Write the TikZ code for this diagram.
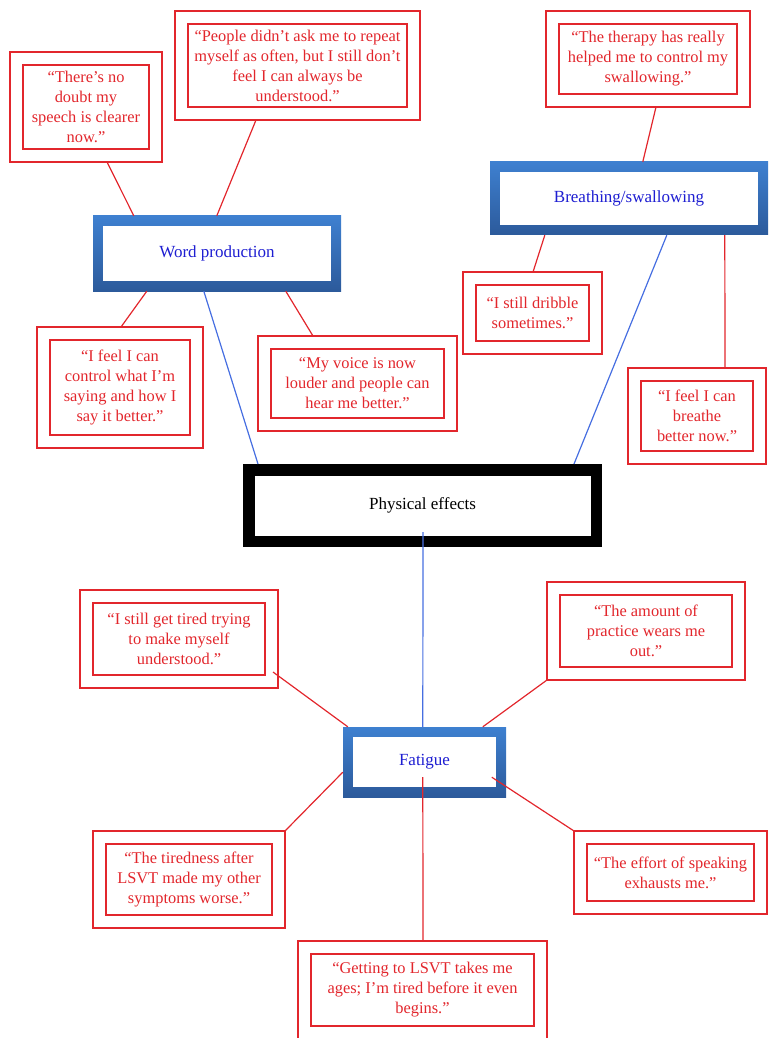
\documentclass[tikz,border=0pt]{standalone}
\usepackage{fontspec}
\setmainfont{Liberation Serif}
\usetikzlibrary{calc}
\definecolor{qred}{RGB}{226,38,44}
\definecolor{tblue}{RGB}{30,30,210}
\definecolor{lblue}{RGB}{70,110,225}
\definecolor{btop}{RGB}{62,128,208}
\definecolor{bbot}{RGB}{44,90,155}
\newcommand{\qfont}{\fontsize{16.4}{20}\selectfont}
\newcommand{\tfont}{\fontsize{17}{20}\selectfont}
\begin{document}
\begin{tikzpicture}[x=1pt,y=-1pt,
  quote/.style={draw=qred, line width=1.3pt, double=white, double distance=11.7pt,
    outer sep=6.5pt, inner sep=0pt, text=qred, align=center, font=\qfont},
  topic/.style={top color=btop, bottom color=bbot, inner sep=0pt, text=tblue, font=\tfont,
    path picture={\fill[white] ([xshift=10pt,yshift=-10pt]path picture bounding box.north west)
      rectangle ([xshift=-10pt,yshift=10pt]path picture bounding box.south east);}},
  centrebox/.style={draw=black, line width=11.5pt, fill=white, outer sep=5.75pt,
    inner sep=0pt, font=\tfont},
  redline/.style={draw=qred, line width=1.2pt},
  blueline/.style={draw=lblue, line width=1.2pt}]
\useasboundingbox (0,0) rectangle (777,1048);
\begin{scope}
\clip (0,0) rectangle (777,1037);
% topic boxes
\node[topic, minimum width=248pt, minimum height=75pt] (word) at (217,253.5) {Word production};
\node[topic, minimum width=278pt, minimum height=73pt] (breath) at (629,198.5) {Breathing/swallowing};
\node[topic, minimum width=163pt, minimum height=70pt] (fat) at (424.5,762) {Fatigue};
\node[centrebox, minimum width=347.5pt, minimum height=71.5pt] (phys) at (422.5,505.5) {Physical effects};
% quotes
\node[quote, minimum width=139pt, minimum height=97pt] (b1) at (86,107)
  {“There’s no\\ doubt my\\ speech is clearer\\ now.”};
\node[quote, minimum width=232pt, minimum height=96pt] (b2) at (297.5,65.5)
  {“People didn’t ask me to repeat\\ myself as often, but I still don’t\\ feel I can always be\\ understood.”};
\node[quote, minimum width=191pt, minimum height=83pt] (b3) at (648,59)
  {“The therapy has really\\ helped me to control my\\ swallowing.”};
\node[quote, minimum width=126pt, minimum height=69pt] (dribble) at (532.5,313)
  {“I still dribble\\ sometimes.”};
\node[quote, minimum width=125pt, minimum height=83pt] (breathe) at (697,416)
  {“I feel I can\\ breathe\\ better now.”};
\node[quote, minimum width=153pt, minimum height=108pt] (control) at (120,387.5)
  {“I feel I can\\ control what I’m\\ saying and how I\\ say it better.”};
\node[quote, minimum width=186pt, minimum height=82pt] (voice) at (357.5,383.5)
  {“My voice is now\\ louder and people can\\ hear me better.”};
\node[quote, minimum width=185pt, minimum height=85pt] (tired) at (179,639)
  {“I still get tired trying\\ to make myself\\ understood.”};
\node[quote, minimum width=185pt, minimum height=85pt] (amount) at (646,631)
  {“The amount of\\ practice wears me\\ out.”};
\node[quote, minimum width=179pt, minimum height=84pt] (tiredness) at (189,879.5)
  {“The tiredness after\\ LSVT made my other\\ symptoms worse.”};
\node[quote, minimum width=180pt, minimum height=70pt] (effort) at (670.5,872.5)
  {“The effort of speaking\\ exhausts me.”};
\node[quote, minimum width=236pt, minimum height=85pt] (bottom) at (422.5,990)
  {“Getting to LSVT takes me\\ ages; I’m tired before it even\\ begins.”};
% connectors
\draw[redline] ([xshift=97pt]b1.south west) -- ([xshift=41pt]word.north west);
\draw[redline] ([xshift=81pt]b2.south west) -- ([xshift=124pt]word.north west);
\draw[redline] ([xshift=54pt]word.south west) -- ([xshift=84pt]control.north west);
\draw[redline] ([xshift=193pt]word.south west) -- ([xshift=55pt]voice.north west);
\draw[blueline] ([xshift=111pt]word.south west) -- ([xshift=15pt]phys.north west);
\draw[redline] ([xshift=110pt]b3.south west) -- ([xshift=153pt]breath.north west);
\draw[redline] ([xshift=55pt]breath.south west) -- ([xshift=70pt]dribble.north west);
\draw[redline] ([xshift=235pt]breath.south west) -- ([xshift=97pt]breathe.north west);
\draw[blueline] ([xshift=177pt]breath.south west) -- ([xshift=331pt]phys.north west);
\draw[blueline] ([xshift=180pt,yshift=15pt]phys.south west) -- ([xshift=80pt]fat.north west);
\draw[redline] ([xshift=-5pt,yshift=16pt]tired.south east) -- ([xshift=5pt]fat.north west);
\draw[redline] (amount.south west) -- ([xshift=140pt]fat.north west);
\draw[redline] (tiredness.north east) -- ([yshift=25pt]fat.south west);
\draw[redline] ([xshift=149pt,yshift=20pt]fat.south west) -- (effort.north west);
\draw[redline] ([xshift=80pt,yshift=20pt]fat.south west) -- ([xshift=125pt]bottom.north west);
\end{scope}
\end{tikzpicture}
\end{document}
